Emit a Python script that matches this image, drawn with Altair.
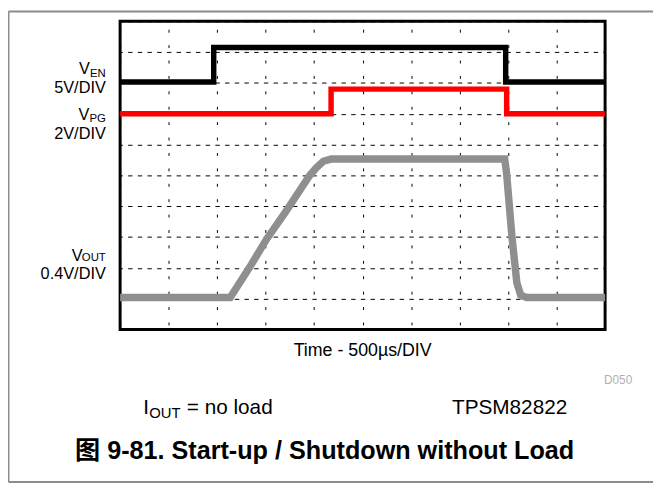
import altair as alt
import pandas as pd

# ---- data (scope divisions: x = time divisions 0..10, y = vertical divisions 0..10) ----
div_ticks = list(range(11))

ven_t = [0, 1.93, 1.93, 7.95, 7.95, 10]
ven_v = [8.03, 8.03, 9.15, 9.15, 8.03, 8.03]

vpg_t = [0, 4.35, 4.35, 7.97, 7.97, 10]
vpg_v = [7.00, 7.00, 7.80, 7.80, 7.00, 7.00]

vout_t = [0, 2.27, 2.68, 3.02, 3.43, 3.70, 3.90, 4.04, 4.19, 4.35, 7.93, 7.97, 8.08, 8.18, 8.26, 8.38, 10]
vout_v = [1.04, 1.04, 2.04, 2.93, 3.86, 4.50, 4.98, 5.24, 5.46, 5.53, 5.53, 5.05, 3.00, 1.52, 1.11, 1.04, 1.04]

txt_ven = ["V", "EN", "5V/DIV"]
txt_vpg = ["V", "PG", "2V/DIV"]
txt_vout = ["V", "OUT", "0.4V/DIV"]
txt_xlabel = "Time - 500µs/DIV"
txt_code = "D050"
txt_iout = ["I", "OUT", "= no load"]
txt_part = "TPSM82822"
txt_title = "图 9-81. Start-up / Shutdown without Load"

W, H = 491, 312
FONT = "Liberation Sans, Arial, Noto Sans CJK SC, sans-serif"

xscale = alt.Scale(domain=[0, 10], nice=False, zero=False)
yscale = alt.Scale(domain=[0, 10], nice=False, zero=False)

xaxis = alt.Axis(values=div_ticks, grid=True, gridColor="black", gridWidth=1, gridOpacity=1,
                 gridDash=[3, 12.6], gridDashOffset=-8, labels=False, ticks=False,
                 domain=False, title=None)
yaxis = alt.Axis(values=div_ticks, grid=True, gridColor="black", gridWidth=1, gridOpacity=1,
                 gridDash=[4.5, 5.32], gridDashOffset=2.25, labels=False, ticks=False,
                 domain=False, title=None)


def trace(ts, vs, color, width):
    df = pd.DataFrame({"t": ts, "v": vs, "o": list(range(len(ts)))})
    return alt.Chart(df).mark_line(color=color, strokeWidth=width, strokeJoin="miter").encode(
        x=alt.X("t:Q", scale=xscale, axis=xaxis),
        y=alt.Y("v:Q", scale=yscale, axis=yaxis),
        order="o:Q",
    )


def label(text, x, y, size, align="left", weight="normal", color="black"):
    return alt.Chart(pd.DataFrame({"s": [text]})).mark_text(
        align=align, baseline="alphabetic", fontSize=size, font=FONT,
        fontWeight=weight, color=color
    ).encode(x=alt.value(x), y=alt.value(y), text="s:N")


def rule(x1, y1, x2, y2, color="#8c8c8c", width=2):
    return alt.Chart(pd.DataFrame({"a": [0]})).mark_rule(color=color, strokeWidth=width).encode(
        x=alt.value(x1), y=alt.value(y1), x2=alt.value(x2), y2=alt.value(y2)
    )


layers = [
    trace(vout_t, vout_v, "#8f8f8f", 7.5),
    trace(vpg_t, vpg_v, "#ff0000", 5.5),
    trace(ven_t, ven_v, "#000000", 5.5),
    # channel labels
    label(txt_ven[0], -30.5, 53.5, 16.5, align="right"),
    label(txt_ven[1], -14.5, 56, 11.5, align="right"),
    label(txt_ven[2], -14.5, 73, 16.5, align="right"),
    label(txt_vpg[0], -31, 100, 16.5, align="right"),
    label(txt_vpg[1], -14.5, 102, 11.5, align="right"),
    label(txt_vpg[2], -14.5, 119.5, 16.5, align="right"),
    label(txt_vout[0], -38, 243, 16.5, align="right"),
    label(txt_vout[1], -14.5, 243, 11.5, align="right"),
    label(txt_vout[2], -14.5, 260.5, 16.5, align="right"),
    # x label and notes
    label(txt_xlabel, 245.5, 338.5, 18, align="center"),
    label(txt_code, 518.5, 367.5, 12, align="right", color="#b0b0b0"),
    label(txt_iout[0], 23.5, 398, 21),
    label(txt_iout[1], 29.5, 401.5, 15),
    label(txt_iout[2], 67.5, 398, 21),
    label(txt_part, 336, 398, 21),
    label(txt_title, 207, 443, 25.5, align="center", weight="bold"),
    # outer frame lines
    rule(-113, -10, 540, -10),
    rule(-113, -10, -113, 466.5),
    rule(-113, 466.5, 540, 466.5),
]

chart = alt.layer(*layers).properties(
    width=W, height=H,
    autosize="none",
    padding={"left": 113.5, "top": 10.5, "right": 48.5, "bottom": 156.5},
    background="white",
).configure_view(stroke="black", strokeWidth=3)

chart.save("out.html", embed_options={"renderer": "svg", "actions": False})
